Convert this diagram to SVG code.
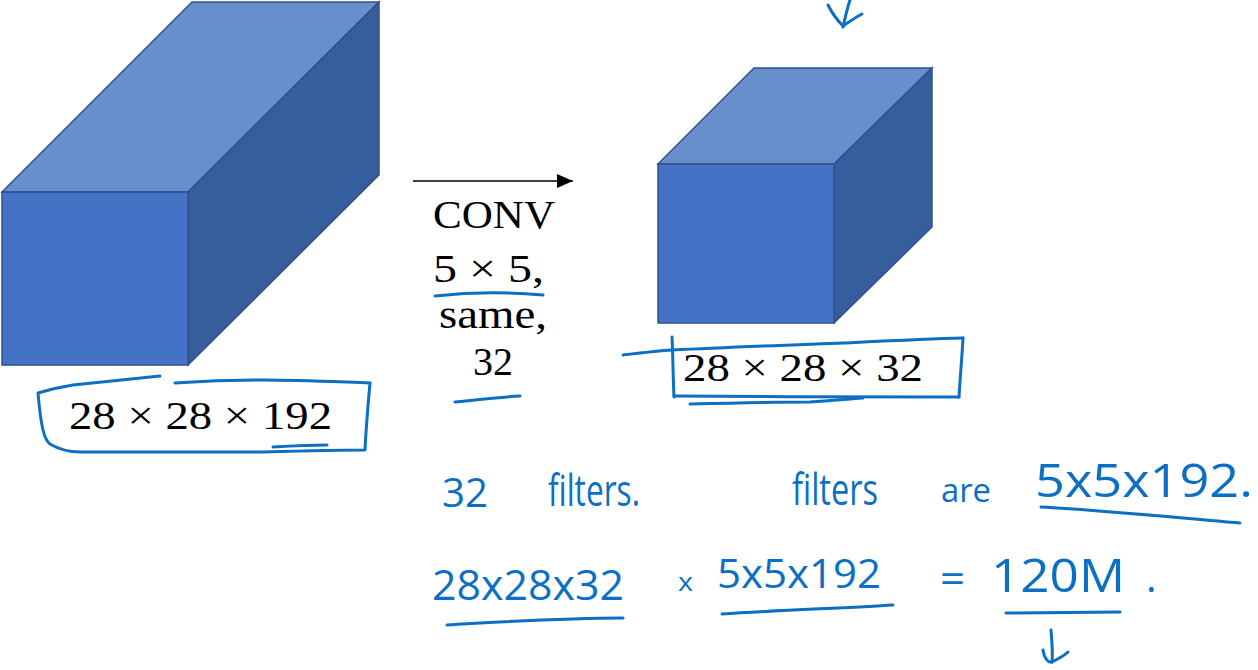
<svg xmlns="http://www.w3.org/2000/svg" width="1258" height="670" viewBox="0 0 1258 670">
<style>
.front{fill:#4472C4;stroke:#2F528F;stroke-width:1.5;stroke-linejoin:miter}
.top{fill:#698ECC;stroke:#2F528F;stroke-width:1.5}
.side{fill:#365D9C;stroke:#2F528F;stroke-width:1.5}
.lbl{font-family:"Liberation Serif","DejaVu Serif",serif;font-size:41px;fill:#000}
.ink{fill:none;stroke:#0B6FC4;stroke-width:3;stroke-linecap:round;stroke-linejoin:round}
.hw{font-family:"Open Sans","DejaVu Sans",sans-serif;fill:#0B6FC4}
</style>
<defs>
<marker id="ah2" markerWidth="16" markerHeight="14" refX="16" refY="7" orient="auto" markerUnits="userSpaceOnUse" viewBox="0 0 16 14">
<path d="M0,0 L16,7 L0,14 z" fill="#000"/>
</marker>
</defs>
<rect width="1258" height="670" fill="#fff"/>

<g id="input-volume">
<polygon class="top" points="2,192 192,2 379,2 188,192"/>
<polygon class="side" points="188,192 379,2 379,175 188,365"/>
<rect class="front" x="2" y="192" width="186" height="173"/>
</g>

<g id="output-volume">
<polygon class="top" points="658,164 754,68 932,68 834,164"/>
<polygon class="side" points="834,164 932,68 932,227 834,323"/>
<rect class="front" x="658" y="164" width="176" height="159"/>
</g>

<g id="connectors">
<line x1="413" y1="181" x2="573" y2="181" stroke="#000" stroke-width="1.5" marker-end="url(#ah2)"/>
</g>

<g id="conv-label">
<text class="lbl" x="433" y="228" textLength="122" lengthAdjust="spacingAndGlyphs">CONV</text>
<text class="lbl" x="433" y="282" textLength="111" lengthAdjust="spacingAndGlyphs">5 × 5,</text>
<text class="lbl" x="439" y="328" textLength="108" lengthAdjust="spacingAndGlyphs">same,</text>
<text class="lbl" x="473" y="375" textLength="40" lengthAdjust="spacingAndGlyphs">32</text>
</g>

<g id="input-label">
<text class="lbl" x="69" y="429" textLength="263" lengthAdjust="spacingAndGlyphs">28 × 28 × 192</text>
</g>

<g id="output-label">
<text class="lbl" x="683" y="381" textLength="240" lengthAdjust="spacingAndGlyphs">28 × 28 × 32</text>
</g>

<g id="annotations">
<path class="ink" d="M435,296 C470,292 510,292 543,295"/>
<path class="ink" d="M455,402 C475,400 500,397 520,396"/>
<path class="ink" d="M160,376 C130,379 100,382 73,385 C60,387 48,390 38,393 C39,405 40,417 43,430 C45,438 47,442 50,444 C60,450 70,452 80,452 C150,452 210,452 263,452 C300,451 340,450 365,450 C366,428 368,405 370,383"/>
<path class="ink" d="M175,383 C205,381 235,380 263,380 C300,380 340,382 370,383"/>
<path class="ink" d="M273,447 C290,446 310,445 327,445"/>
<path class="ink" d="M623,355 C640,353 656,351 672,350 C730,347 790,345 843,343 C885,341 925,339 963,338"/>
<path class="ink" d="M672,337 C673,357 673,377 674,397"/>
<path class="ink" d="M963,338 C962,358 960,378 959,397"/>
<path class="ink" d="M674,396 C770,397 860,397 959,397"/>
<path class="ink" d="M690,404 C730,403 770,402 810,402 C830,401 848,399 863,398"/>
<path class="ink" d="M850,0 C847,9 845,18 843,27"/>
<path class="ink" d="M828,5 C832,13 837,20 843,26 C849,22 856,17 862,14"/>

<text class="hw" x="442" y="507" font-size="40" textLength="46" lengthAdjust="spacingAndGlyphs">32</text>
<text class="hw" x="548" y="506" font-size="44" textLength="92" lengthAdjust="spacingAndGlyphs">filters.</text>
<text class="hw" x="792" y="505" font-size="44" textLength="86" lengthAdjust="spacingAndGlyphs">filters</text>
<text class="hw" x="941" y="502" font-size="32" textLength="50" lengthAdjust="spacingAndGlyphs">are</text>
<text class="hw" x="1035" y="497" font-size="46" textLength="218" lengthAdjust="spacingAndGlyphs">5x5x192.</text>
<path class="ink" d="M1041,507 C1100,510 1180,518 1240,523"/>

<text class="hw" x="432" y="600" font-size="42" textLength="192" lengthAdjust="spacingAndGlyphs">28x28x32</text>
<path class="ink" d="M447,625 C500,622 560,618 623,618"/>
<text class="hw" x="678" y="591" font-size="26" textLength="15" lengthAdjust="spacingAndGlyphs">x</text>
<text class="hw" x="717" y="588" font-size="40" textLength="164" lengthAdjust="spacingAndGlyphs">5x5x192</text>
<path class="ink" d="M722,614 C780,610 850,608 893,605"/>
<text class="hw" x="940" y="593" font-size="40" textLength="25" lengthAdjust="spacingAndGlyphs">=</text>
<text class="hw" x="991" y="592" font-size="46" textLength="134" lengthAdjust="spacingAndGlyphs">120M</text>
<text class="hw" x="1146" y="592" font-size="40">.</text>
<path class="ink" d="M1006,613 L1120,612"/>
<path class="ink" d="M1051,630 C1052,642 1053,652 1052,662"/>
<path class="ink" d="M1043,650 C1044,658 1048,663 1052,662 C1058,659 1064,656 1068,652"/>
</g>
</svg>
